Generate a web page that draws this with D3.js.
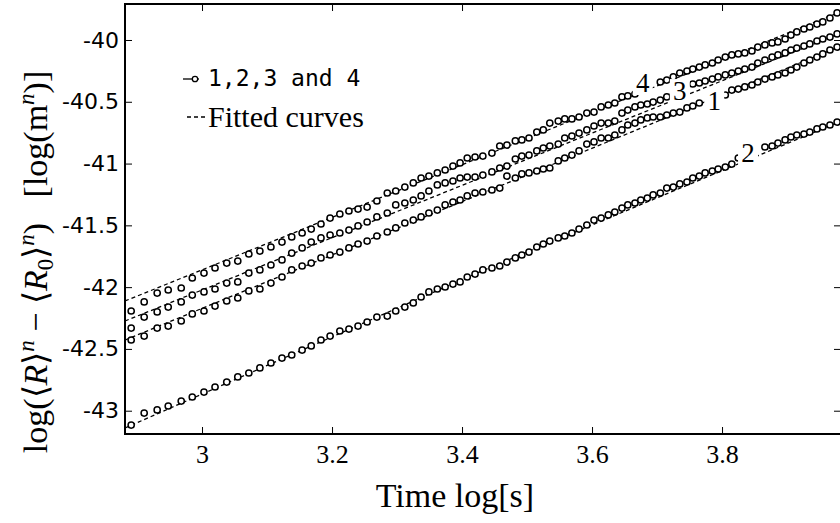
<!DOCTYPE html>
<html><head><meta charset="utf-8">
<script src="https://cdn.jsdelivr.net/npm/d3@7"></script>
<style>
html,body{margin:0;padding:0;background:#fff;}
svg{display:block;}
</style></head>
<body>
<svg id="chart" width="840" height="523"></svg>
<script>
// ---- data ----
const timeLog = [2.891,2.911,2.931,2.948,2.968,2.985,3.003,3.020,3.038,3.055,
3.072,3.089,3.106,3.123,3.138,3.154,3.168,3.183,3.197,3.212,
3.226,3.240,3.254,3.269,3.285,3.298,3.312,3.325,3.337,3.349,
3.362,3.374,3.386,3.397,3.408,3.420,3.432,3.446,3.458,3.469,
3.482,3.492,3.503,3.515,3.525,3.535,3.548,3.558,3.569,3.580,
3.592,3.603,3.614,3.625,3.635,3.646,3.655,3.666,3.675,3.685,
3.694,3.705,3.715,3.725,3.735,3.746,3.755,3.765,3.774,3.785,
3.794,3.805,3.815,3.825,3.835,3.846,3.855,3.866,3.877,3.886,
3.897,3.906,3.915,3.926,3.935,3.946,3.955,3.966,3.977];

const series1 = [-42.428,-42.396,-42.331,-42.315,-42.274,-42.217,-42.193,-42.153,-42.112,-42.088,
-42.031,-42.015,-41.967,-41.918,-41.861,-41.829,-41.805,-41.764,-41.740,-41.716,
-41.683,-41.651,-41.627,-41.586,-41.554,-41.521,-41.481,-41.457,-41.432,-41.400,
-41.376,-41.335,-41.311,-41.295,-41.262,-41.238,-41.230,-41.214,-41.198,-41.101,
-41.117,-41.084,-41.076,-41.060,-41.044,-41.036,-40.979,-40.955,-40.931,-40.898,
-40.842,-40.825,-40.793,-40.793,-40.769,-40.728,-40.688,-40.672,-40.647,-40.631,
-40.623,-40.623,-40.607,-40.591,-40.583,-40.550,-40.534,-40.510,null,null,
null,-40.445,-40.405,-40.397,-40.380,-40.364,-40.340,-40.316,-40.299,-40.283,
-40.267,-40.243,-40.219,-40.186,-40.162,-40.138,-40.113,-40.081,-40.057];

const series2 = [-43.116,-43.019,-42.994,-42.962,-42.922,-42.889,-42.849,-42.808,-42.768,-42.727,
-42.695,-42.654,-42.614,-42.574,-42.549,-42.509,-42.476,-42.428,-42.396,-42.355,
-42.339,-42.315,-42.282,-42.242,-42.234,-42.193,-42.161,-42.128,-42.080,-42.039,
-42.015,-41.999,-41.975,-41.958,-41.918,-41.894,-41.861,-41.845,-41.829,-41.797,
-41.764,-41.740,-41.716,-41.675,-41.651,-41.627,-41.602,-41.586,-41.562,-41.530,
-41.497,-41.457,-41.441,-41.416,-41.392,-41.360,-41.335,-41.319,-41.295,-41.279,
-41.254,-41.238,-41.198,-41.190,-41.165,-41.149,-41.117,-41.101,-41.076,-41.060,
-41.044,-41.028,-41.004,-40.955,null,null,null,-40.866,-40.858,-40.834,
-40.809,-40.785,-40.769,-40.761,-40.745,-40.720,-40.704,-40.688,-40.664];

const series3 = [-42.331,-42.242,-42.201,-42.161,-42.120,-42.064,-42.039,-42.015,-41.967,-41.958,
-41.886,-41.861,-41.821,-41.780,-41.724,-41.683,-41.635,-41.602,-41.578,-41.562,
-41.538,-41.505,-41.473,-41.432,-41.400,-41.335,-41.319,-41.295,-41.262,-41.222,
-41.173,-41.157,-41.141,-41.117,-41.109,-41.109,-41.093,-41.068,-41.036,-41.020,
-40.963,-40.939,-40.931,-40.898,-40.874,-40.858,-40.842,-40.793,-40.777,-40.753,
-40.728,-40.696,-40.672,-40.672,-40.656,-40.591,-40.567,-40.542,-40.526,-40.518,
-40.502,-40.486,-40.461,-40.445,null,null,-40.356,-40.348,-40.332,-40.316,
-40.299,-40.283,-40.267,-40.251,-40.235,-40.219,-40.186,-40.162,-40.138,-40.121,
-40.105,-40.081,-40.065,-40.049,-40.032,-40.008,-39.992,-39.976,-39.951];

const series4 = [-42.193,-42.120,-42.048,-42.023,-42.007,-41.926,-41.886,-41.845,-41.805,-41.789,
-41.732,-41.708,-41.675,-41.635,-41.594,-41.562,-41.530,-41.489,-41.441,-41.408,
-41.384,-41.368,-41.352,-41.303,-41.238,-41.222,-41.190,-41.157,-41.117,-41.101,
-41.076,-41.052,-41.020,-40.995,-40.955,-40.947,-40.939,-40.915,-40.858,-40.850,
-40.817,-40.809,-40.793,-40.745,-40.728,-40.672,-40.656,-40.639,-40.639,-40.623,
-40.591,-40.583,-40.542,-40.526,-40.510,-40.461,-40.453,-40.437,null,null,
null,-40.340,-40.324,-40.299,-40.267,-40.251,-40.235,-40.219,-40.202,-40.186,
-40.162,-40.138,-40.121,-40.113,-40.105,-40.089,-40.057,-40.040,-40.024,-40.016,
-39.992,-39.960,-39.935,-39.911,-39.895,-39.871,-39.854,-39.822,-39.781];

const fitTime = [2.8815, 3.43, 3.983];
const fit1 = [-42.428, -41.243, -40.049];
const fit2 = [-43.140, -41.870, -40.656];
const fit3 = [-42.274, -41.113, -39.943];
const fit4 = [-42.112, -40.946, -39.770];

const seriesNames = ["1", "2", "3", "4"];
// where each curve's number is written (data coordinates of the label baseline centre)
const labelTime  = [3.788, 3.840, 3.735, 3.678];
const labelValue = [-40.566, -40.987, -40.486, -40.421];
const xTicks = [3, 3.2, 3.4, 3.6, 3.8];
const yTicks = [-40, -40.5, -41, -41.5, -42, -42.5, -43];
const xDomain = [2.8815, 3.983];
const yDomain = [-43.1885, -39.7087];

// ---- drawing ----
const svg = d3.select("#chart");
const m = {left:125, top:4, right:841, bottom:434};
const x = d3.scaleLinear().domain(xDomain).range([m.left, m.right]);
const y = d3.scaleLinear().domain(yDomain).range([m.bottom, m.top]);

const allSeries = [series1, series2, series3, series4];
const allFits = [fit1, fit2, fit3, fit4];

const plot = svg.append("g");
// fitted dashed curves
const fitLine = d3.line().x((d,i)=>x(fitTime[i])).y(d=>y(d));
allFits.forEach(f=>{
  plot.append("path").attr("d", fitLine(f))
    .attr("fill","none").attr("stroke","#000").attr("stroke-width",1.3)
    .attr("stroke-dasharray","4,3");
});
// markers
allSeries.forEach(s=>{
  plot.append("g").selectAll("circle")
    .data(s.map((v,i)=>({t:timeLog[i], v})).filter(d=>d.v!==null))
    .join("circle")
    .attr("cx", d=>x(d.t)).attr("cy", d=>y(d.v)).attr("r", 3.1)
    .attr("fill","#fff").attr("stroke","#000").attr("stroke-width",1.5);
});

// curve number labels
seriesNames.forEach((name,k)=>{
  const px = x(labelTime[k]);
  const py = y(labelValue[k]);
  plot.append("rect").attr("x", px-10).attr("y", py-21).attr("width", 20).attr("height", 24).attr("fill","#fff");
  plot.append("text").attr("x", px).attr("y", py).attr("text-anchor","middle")
    .attr("font-family","Liberation Serif, Times New Roman, serif").attr("font-size",27)
    .text(name);
});

// axes
const axStyle = g=>{
  g.selectAll(".domain").remove();
  g.selectAll(".tick line").attr("stroke","#000").attr("stroke-width",1);
};
svg.append("g").attr("transform",`translate(0,${m.bottom})`)
  .call(d3.axisBottom(x).tickValues(xTicks).tickSize(-7).tickPadding(11).tickFormat(d=>String(d)))
  .call(axStyle)
  .selectAll("text").attr("font-family","Liberation Serif, serif").attr("font-size",26).attr("fill","#000");
svg.append("g").attr("transform",`translate(0,${m.top})`)
  .call(d3.axisTop(x).tickValues(xTicks).tickSize(-7).tickFormat(""))
  .call(axStyle);
svg.append("g").attr("transform",`translate(${m.left},0)`)
  .call(d3.axisLeft(y).tickValues(yTicks).tickSize(-7).tickPadding(6).tickFormat(d=>String(d)))
  .call(axStyle)
  .selectAll("text").attr("font-family","DejaVu Sans, sans-serif").attr("font-size",22).attr("fill","#000");
svg.append("g").attr("transform",`translate(${m.right},0)`)
  .call(d3.axisRight(y).tickValues(yTicks).tickSize(-7).tickFormat(""))
  .call(axStyle);

// frame
svg.append("rect").attr("x",m.left).attr("y",m.top).attr("width",m.right-m.left).attr("height",m.bottom-m.top)
  .attr("fill","none").attr("stroke","#000").attr("stroke-width",2);

// legend
const lg = svg.append("g");
lg.append("line").attr("x1",183).attr("x2",199).attr("y1",79).attr("y2",79).attr("stroke","#000").attr("stroke-width",1.3);
lg.append("circle").attr("cx",195).attr("cy",79).attr("r",2.7).attr("fill","#fff").attr("stroke","#000").attr("stroke-width",1.3);
lg.append("text").attr("x",208).attr("y",86).attr("font-family","DejaVu Sans Mono, monospace").attr("font-size",23)
  .text("1,2,3 and 4");
lg.append("line").attr("x1",187).attr("x2",207).attr("y1",117).attr("y2",117).attr("stroke","#000").attr("stroke-width",1.3).attr("stroke-dasharray","4,3");
lg.append("text").attr("x",208).attr("y",127).attr("font-family","Liberation Serif, serif").attr("font-size",30)
  .text("Fitted curves");

// axis titles
svg.append("text").attr("x",455).attr("y",507).attr("text-anchor","middle")
  .attr("font-family","Liberation Serif, serif").attr("font-size",34).text("Time log[s]");

const yl = svg.append("text").attr("transform","translate(47,262) rotate(-90)").attr("text-anchor","middle")
  .attr("font-family","Liberation Serif, serif").attr("font-size",34);
yl.append("tspan").text("log(⟨");
yl.append("tspan").attr("font-style","italic").text("R");
yl.append("tspan").text("⟩");
yl.append("tspan").attr("font-style","italic").attr("font-size",23).attr("dy",-13).text("n");
yl.append("tspan").attr("dy",13).text(" − ⟨");
yl.append("tspan").attr("font-style","italic").text("R");
yl.append("tspan").attr("font-size",23).attr("dy",6).text("0");
yl.append("tspan").attr("dy",-6).text("⟩");
yl.append("tspan").attr("font-style","italic").attr("font-size",23).attr("dy",-13).text("n");
yl.append("tspan").attr("dy",13).text(")\u00a0\u00a0\u00a0[log(m");
yl.append("tspan").attr("font-style","italic").attr("font-size",23).attr("dy",-13).text("n");
yl.append("tspan").attr("dy",13).text(")]");
</script>
</body></html>
